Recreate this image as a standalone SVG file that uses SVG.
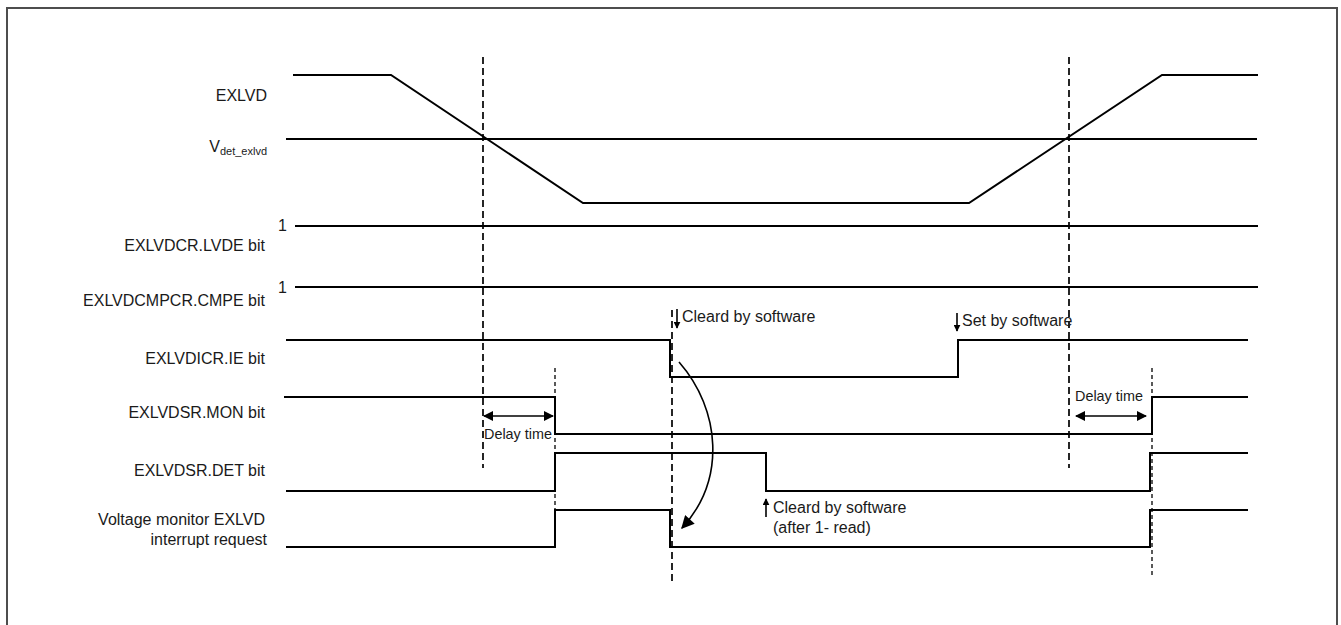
<svg xmlns="http://www.w3.org/2000/svg" width="1341" height="625" viewBox="0 0 1341 625">
<defs>
<style>
.sig{fill:none;stroke:#000;stroke-width:2;stroke-linejoin:miter}
.lbl{font-family:"Liberation Sans",Arial,sans-serif;font-size:16px;fill:#1a1a1a;text-anchor:end}
.ann{font-family:"Liberation Sans",Arial,sans-serif;font-size:16px;fill:#1a1a1a}
.dl{font-family:"Liberation Sans",Arial,sans-serif;font-size:14.4px;fill:#1a1a1a}
.dashL{fill:none;stroke:#000;stroke-width:1.7;stroke-dasharray:7 4}
.dashS{fill:none;stroke:#000;stroke-width:1.3;stroke-dasharray:4 3}
.arr{fill:none;stroke:#000;stroke-width:1.6}
</style>
<marker id="ah" viewBox="0 0 10 10" refX="9" refY="5" markerWidth="11" markerHeight="10" markerUnits="userSpaceOnUse" orient="auto-start-reverse">
<path d="M0,0 L10,5 L0,10 Z" fill="#000"/>
</marker>
<marker id="ahs" viewBox="0 0 10 10" refX="9" refY="5" markerWidth="7" markerHeight="7" markerUnits="userSpaceOnUse" orient="auto">
<path d="M0,0 L10,5 L0,10 Z" fill="#000"/>
</marker>
<marker id="ahc" viewBox="0 0 10 10" refX="9" refY="5" markerWidth="14" markerHeight="13" markerUnits="userSpaceOnUse" orient="auto">
<path d="M0,0 L10,5 L0,10 Z" fill="#000"/>
</marker>
</defs>
<rect x="0" y="0" width="1341" height="625" fill="#fff"/>
<rect x="7" y="8" width="1330" height="630" fill="none" stroke="#4d4d4d" stroke-width="2"/>

<g id="exlvd">
<text class="lbl" x="267" y="101">EXLVD</text>
<polyline class="sig" points="293,75 391,75 583,203 969,203 1162,75 1258,75"/>
</g>
<g id="vdet">
<text class="lbl" x="267" y="152">V<tspan font-size="11" dy="3">det_exlvd</tspan></text>
<line class="sig" x1="286" y1="139" x2="1257" y2="139"/>
</g>
<g id="lvde">
<text class="lbl" x="265" y="251">EXLVDCR.LVDE bit</text>
<text class="ann" x="278" y="231" font-size="14">1</text>
<line class="sig" x1="295" y1="226" x2="1258" y2="226"/>
</g>
<g id="cmpe">
<text class="lbl" x="265" y="306">EXLVDCMPCR.CMPE bit</text>
<text class="ann" x="278" y="293" font-size="14">1</text>
<line class="sig" x1="295" y1="287" x2="1258" y2="287"/>
</g>
<g id="ie">
<text class="lbl" x="265" y="364">EXLVDICR.IE bit</text>
<polyline class="sig" points="286,340 670,340 670,377 958,377 958,340 1248,340"/>
</g>
<g id="mon">
<text class="lbl" x="265" y="418">EXLVDSR.MON bit</text>
<polyline class="sig" points="284,397 555,397 555,434 1152,434 1152,397 1248,397"/>
</g>
<g id="det">
<text class="lbl" x="265" y="476">EXLVDSR.DET bit</text>
<polyline class="sig" points="286,491 555,491 555,453 766,453 766,491 1150,491 1150,453 1248,453"/>
</g>
<g id="irq">
<text class="lbl" x="265" y="525">Voltage monitor EXLVD</text>
<text class="lbl" x="267" y="545">interrupt request</text>
<polyline class="sig" points="286,547 555,547 555,510 670,510 670,547 1150,547 1150,510 1248,510"/>
</g>

<g id="connectors">
<line class="dashL" x1="483" y1="57" x2="483" y2="468"/>
<line class="dashL" x1="1069" y1="57" x2="1069" y2="468"/>
<line class="dashL" x1="672" y1="310" x2="672" y2="585"/>
<line class="dashS" x1="555" y1="368" x2="555" y2="549"/>
<line class="dashS" x1="1152" y1="368" x2="1152" y2="578"/>
<line class="arr" x1="484" y1="416" x2="553" y2="416" marker-start="url(#ah)" marker-end="url(#ah)"/>
<line class="arr" x1="1076" y1="416" x2="1146" y2="416" marker-start="url(#ah)" marker-end="url(#ah)"/>
<line class="arr" x1="677" y1="309" x2="677" y2="328" stroke-width="1.2" marker-end="url(#ahs)"/>
<line class="arr" x1="957" y1="313" x2="957" y2="331" stroke-width="1.2" marker-end="url(#ahs)"/>
<line class="arr" x1="766" y1="517" x2="766" y2="499" stroke-width="1.2" marker-end="url(#ahs)"/>
<path class="arr" d="M679,362 C721,410 726,480 682,528" stroke-width="2" marker-end="url(#ahc)"/>
</g>

<g id="annotations">
<text class="ann" x="682" y="322">Cleard by software</text>
<text class="ann" x="962" y="326" font-size="14.5">Set by software</text>
<text class="ann" x="773" y="513">Cleard by software</text>
<text class="ann" x="773" y="533">(after 1- read)</text>
<text class="dl" x="484" y="439">Delay time</text>
<text class="dl" x="1075" y="401">Delay time</text>
</g>
</svg>
